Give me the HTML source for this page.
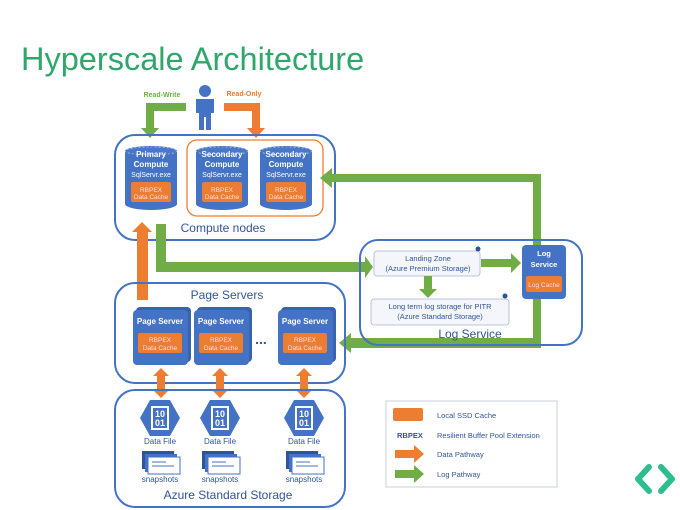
<!DOCTYPE html>
<html><head><meta charset="utf-8"><style>
body{margin:0;background:#fff;}
svg{display:block;font-family:"Liberation Sans",sans-serif;}
</style></head><body>
<svg width="680" height="510" viewBox="0 0 680 510" xmlns="http://www.w3.org/2000/svg">
<defs>
<g id="cyl">
<path d="M0,5 L0,58 A26,6 0 0 0 52,58 L52,5 A26,5 0 0 0 0,5 Z" fill="#4472c4"/>
<ellipse cx="26" cy="5" rx="26" ry="4" fill="#4a78c8" stroke="#c8d6f0" stroke-width="0.6" stroke-dasharray="2,2"/>
<rect x="6" y="36" width="40" height="20" rx="2" fill="#ed7d31"/>
<text x="26" y="46" font-size="6.5" fill="#fde" text-anchor="middle">RBPEX</text>
<text x="26" y="53" font-size="6.5" fill="#fde" text-anchor="middle">Data Cache</text>
</g>
<g id="ps">
<rect x="3" y="-3" width="55" height="55" rx="4" fill="#3a62ad"/>
<rect x="0" y="0" width="55" height="55" rx="4" fill="#4472c4"/>
<text x="27" y="14" font-size="8" font-weight="bold" fill="#fff" text-anchor="middle">Page Server</text>
<rect x="5" y="23" width="44" height="20" rx="2" fill="#ed7d31"/>
<text x="27" y="32" font-size="6.5" fill="#fde" text-anchor="middle">RBPEX</text>
<text x="27" y="40" font-size="6.5" fill="#fde" text-anchor="middle">Data Cache</text>
</g>
<g id="df">
<polygon points="-10,-18 10,-18 20,0 10,18 -10,18 -20,0" fill="#4472c4"/>
<rect x="-9" y="-12" width="18" height="24" fill="#fff"/>
<rect x="-7" y="-10" width="14" height="20" fill="#4472c4"/>
<text x="0" y="-1" font-size="9" font-weight="bold" fill="#fff" text-anchor="middle">10</text>
<text x="0" y="8" font-size="9" font-weight="bold" fill="#fff" text-anchor="middle">01</text>
<text x="0" y="26" font-size="8" fill="#2f5597" text-anchor="middle">Data File</text>
<rect x="-18" y="33" width="32" height="18" fill="#2f5597"/>
<rect x="-15" y="36" width="32" height="18" fill="#4472c4"/>
<rect x="-12" y="39" width="32" height="17" fill="#fff" stroke="#4472c4"/>
<line x1="-8" y1="44" x2="6" y2="44" stroke="#4472c4"/>
<line x1="-8" y1="48" x2="14" y2="48" stroke="#4472c4"/>
<text x="0" y="64" font-size="8" fill="#2f5597" text-anchor="middle">snapshots</text>
</g>
</defs>
<text x="21" y="70" font-size="32.5" fill="#2fa66a">Hyperscale Architecture</text>

<circle cx="205" cy="91" r="6" fill="#4472c4"/>
<path d="M196,99 h18 v14 h-3 v17 h-5 v-13 h-2 v13 h-5 v-17 h-3 z" fill="#4472c4"/>
<text x="162" y="97" font-size="7" font-weight="bold" fill="#70ad47" text-anchor="middle">Read-Write</text>
<text x="244" y="96" font-size="7" font-weight="bold" fill="#ed7d31" text-anchor="middle">Read-Only</text>
<path d="M186,103 h-40 v25 h-5 l9,10 l9,-10 h-5 v-17 h32 z" fill="#70ad47"/>
<path d="M224,103 h36 v25 h5 l-9,10 l-9,-10 h5 v-17 h-28 z" fill="#ed7d31"/>

<rect x="115" y="135" width="220" height="105" rx="20" fill="none" stroke="#4472c4" stroke-width="2"/>
<rect x="187" y="140" width="136" height="76" rx="10" fill="none" stroke="#ed7d31" stroke-width="1.3"/>
<use href="#cyl" x="125" y="146"/>
<use href="#cyl" x="196" y="146"/>
<use href="#cyl" x="260" y="146"/>
<g font-size="8" fill="#fff" text-anchor="middle" font-weight="bold">
<text x="151" y="157">Primary</text><text x="151" y="167">Compute</text>
<text x="222" y="157">Secondary</text><text x="222" y="167">Compute</text>
<text x="286" y="157">Secondary</text><text x="286" y="167">Compute</text>
</g>
<g font-size="7" fill="#fff" text-anchor="middle">
<text x="151" y="177">SqlServr.exe</text><text x="222" y="177">SqlServr.exe</text><text x="286" y="177">SqlServr.exe</text>
</g>
<text x="223" y="232" font-size="12" fill="#2f5597" text-anchor="middle">Compute nodes</text>

<path d="M320,178 l12,-10 v6 h209 v174 h-190 v5 l-12,-10 l12,-10 v5 h182 v-156 h-201 v6 z" fill="#70ad47"/>
<path d="M156,224 h10 v38 h199 v-6 l8,11 l-8,11 v-6 h-209 z" fill="#70ad47"/>
<path d="M137,300 v-68 h-5 l10,-10 l10,10 h-4 v68 z" fill="#ed7d31"/>

<rect x="360" y="240" width="222" height="105" rx="18" fill="none" stroke="#4472c4" stroke-width="2"/>
<rect x="374" y="251" width="106" height="25" rx="3" fill="#f4f6fb" stroke="#a9b4cc" stroke-width="0.8"/>
<circle cx="478" cy="249" r="2.5" fill="#2f5597"/>
<text x="428" y="261" font-size="7.5" fill="#2f5597" text-anchor="middle">Landing Zone</text>
<text x="428" y="271" font-size="7.5" fill="#2f5597" text-anchor="middle">(Azure Premium Storage)</text>
<rect x="371" y="299" width="138" height="26" rx="3" fill="#f4f6fb" stroke="#a9b4cc" stroke-width="0.8"/>
<circle cx="505" cy="296" r="2.5" fill="#2f5597"/>
<text x="440" y="309" font-size="7.5" fill="#2f5597" text-anchor="middle">Long term log storage for PITR</text>
<text x="440" y="319" font-size="7.5" fill="#2f5597" text-anchor="middle">(Azure Standard Storage)</text>
<path d="M424,276 h8 v13 h5 l-9,9 l-9,-9 h5 z" fill="#70ad47"/>
<path d="M481,259 h30 v-6 l10,10 l-10,10 v-6 h-30 z" fill="#70ad47"/>
<rect x="522" y="245" width="44" height="54" rx="4" fill="#4472c4"/>
<text x="544" y="256" font-size="7.5" font-weight="bold" fill="#fff" text-anchor="middle">Log</text>
<text x="544" y="267" font-size="7.5" font-weight="bold" fill="#fff" text-anchor="middle">Service</text>
<rect x="526" y="276" width="36" height="16" rx="2" fill="#ed7d31"/>
<text x="544" y="287" font-size="6.5" fill="#fde" text-anchor="middle">Log Cache</text>
<text x="470" y="338" font-size="12" fill="#2f5597" text-anchor="middle">Log Service</text>

<rect x="115" y="283" width="230" height="100" rx="20" fill="none" stroke="#4472c4" stroke-width="2"/>
<text x="227" y="299" font-size="12" fill="#2f5597" text-anchor="middle">Page Servers</text>
<use href="#ps" x="133" y="310"/>
<use href="#ps" x="194" y="310"/>
<use href="#ps" x="278" y="310"/>
<text x="261" y="344" font-size="14" font-weight="bold" fill="#2f5597" text-anchor="middle">...</text>

<g fill="#ed7d31">
<path id="da" d="M161,368 l8,8 h-4 v14 h4 l-8,8 l-8,-8 h4 v-14 h-4 z"/>
<use href="#da" x="59"/>
<use href="#da" x="143"/>
</g>

<rect x="115" y="390" width="230" height="117" rx="20" fill="none" stroke="#4472c4" stroke-width="2"/>
<use href="#df" x="160" y="418"/>
<use href="#df" x="220" y="418"/>
<use href="#df" x="304" y="418"/>
<text x="228" y="499" font-size="12" fill="#2f5597" text-anchor="middle">Azure Standard Storage</text>

<rect x="386" y="401" width="171" height="86" fill="#fff" stroke="#c9cfd9" stroke-width="1"/>
<rect x="393" y="408" width="30" height="13" rx="2" fill="#ed7d31"/>
<text x="437" y="418" font-size="7.5" fill="#2f5597">Local SSD Cache</text>
<text x="397" y="438" font-size="7.5" font-weight="bold" fill="#2f5597">RBPEX</text>
<text x="437" y="438" font-size="7.5" fill="#2f5597">Resilient Buffer Pool Extension</text>
<path d="M395,450 h19 v-5 l10,9 l-10,9 v-5 h-19 z" fill="#ed7d31"/>
<text x="437" y="457" font-size="7.5" fill="#2f5597">Data Pathway</text>
<path d="M395,470 h19 v-5 l10,9 l-10,9 v-5 h-19 z" fill="#70ad47"/>
<text x="437" y="477" font-size="7.5" fill="#2f5597">Log Pathway</text>

<path d="M649,467 l-11,12 l11,12" fill="none" stroke="#2dbd8f" stroke-width="6" stroke-linecap="round" stroke-linejoin="round"/>
<path d="M661,467 l11,12 l-11,12" fill="none" stroke="#2dbd8f" stroke-width="6" stroke-linecap="round" stroke-linejoin="round"/>
</svg>
</body></html>
